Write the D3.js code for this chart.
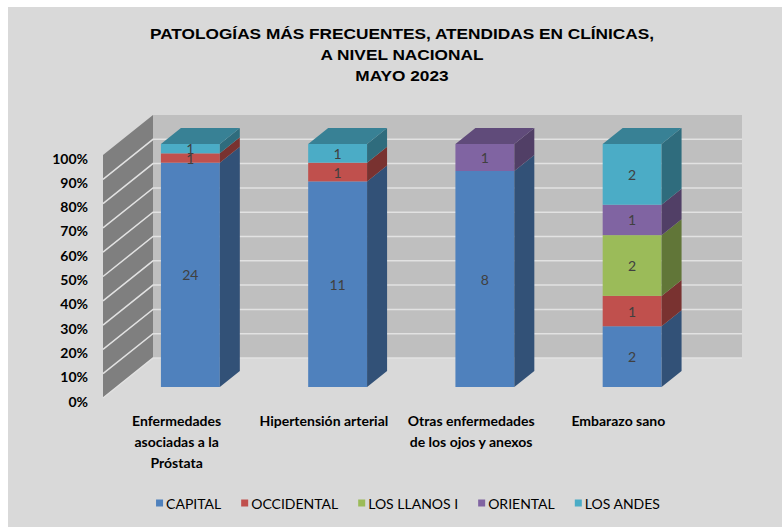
<!DOCTYPE html>
<html>
<head>
<meta charset="utf-8">
<script src="https://cdn.jsdelivr.net/npm/d3@7"></script>
<style>
  body { margin: 0; background: #fff; }
  svg { display: block; }
</style>
</head>
<body>
<div id="chart"></div>
<script>
var width = 782,
    height = 527;

// data
var categories = ["Enfermedades asociadas a la Próstata", "Hipertensión arterial",
                  "Otras enfermedades de los ojos y anexos", "Embarazo sano"];
var categoryLines = [["Enfermedades", "asociadas a la", "Próstata"],
                     ["Hipertensión arterial"],
                     ["Otras enfermedades", "de los ojos y anexos"],
                     ["Embarazo sano"]];
var series = ["CAPITAL", "OCCIDENTAL", "LOS LLANOS I", "ORIENTAL", "LOS ANDES"];
var capital    = [24, 11, 8, 2];
var occidental = [1, 1, 0, 1];
var llanos     = [0, 0, 0, 2];
var oriental   = [0, 0, 1, 1];
var andes      = [1, 1, 0, 2];
var yTicks = [0, 0.1, 0.2, 0.3, 0.4, 0.5, 0.6, 0.7, 0.8, 0.9, 1];
var colors = ["#4f81bd", "#c0504d", "#9bbb59", "#8064a2", "#4bacc6"];

var titleLines = ["PATOLOGÍAS MÁS FRECUENTES, ATENDIDAS EN CLÍNICAS,", "A NIVEL NACIONAL", "MAYO 2023"];

var seriesValues = [capital, occidental, llanos, oriental, andes];
var table = categories.map(function(c, i) {
  var row = { cat: c };
  series.forEach(function(s, j) { row[s] = seriesValues[j][i]; });
  return row;
});

var stacked = d3.stack()
    .keys(series)
    .offset(d3.stackOffsetExpand)(table);

// 3d layout
var depth = { dx: 50, dy: -40 },
    barT0 = 0.275, barT1 = 0.675;

var x = d3.scaleBand()
    .domain(categories)
    .range([103, 692])
    .paddingInner(0.6)
    .paddingOuter(0.3);

var xLabel = d3.scaleBand()
    .domain(categories)
    .range([103, 692]);

var y = d3.scaleLinear()
    .domain([0, 1])
    .range([398, 155]);

var svg = d3.select("#chart")
    .append("svg")
    .attr("width", width)
    .attr("height", height);

svg.append("rect")
    .attr("x", 8).attr("y", 7)
    .attr("width", width - 8).attr("height", height - 7)
    .attr("fill", "#d9d9d9");

// title (the original is a little wider than Arial at this height)
svg.append("g")
  .selectAll("text")
    .data(titleLines)
  .enter().append("text")
    .attr("x", 402)
    .attr("y", function(d, i) { return 39 + i * 21; })
    .attr("text-anchor", "middle")
    .style("font-family", "'Liberation Sans', Arial, sans-serif")
    .style("font-weight", "bold")
    .style("font-size", "15px")
    .attr("fill", "#000")
    .text(function(d) { return d; })
    .each(function() {
      var w = this.getComputedTextLength();
      d3.select(this).attr("textLength", w * 1.15).attr("lengthAdjust", "spacingAndGlyphs");
    });

// walls
var xL = x.range()[0], xR = x.range()[1];
var walls = svg.append("g");

walls.append("polygon")
    .attr("points", [
      [xL + depth.dx, y(1) + depth.dy], [xR + depth.dx, y(1) + depth.dy],
      [xR + depth.dx, y(0) + depth.dy], [xL + depth.dx, y(0) + depth.dy]
    ].join(" "))
    .attr("fill", "#bfbfbf");

walls.append("polygon")
    .attr("points", [
      [xL, y(0)], [xL + depth.dx, y(0) + depth.dy],
      [xL + depth.dx, y(1) + depth.dy], [xL, y(1)]
    ].join(" "))
    .attr("fill", "#7f7f7f");

var grid = walls.selectAll(".grid")
    .data(yTicks.filter(function(v) { return v < 1; }))
  .enter().append("g");

grid.append("polyline")
    .attr("points", function(v) {
      return [[xL, y(v)], [xL + depth.dx, y(v) + depth.dy], [xR + depth.dx, y(v) + depth.dy]].join(" ");
    })
    .attr("fill", "none")
    .attr("stroke", "#e2e2e2")
    .attr("stroke-width", 1.5);

// y axis labels
svg.append("g")
  .selectAll("text")
    .data(yTicks)
  .enter().append("text")
    .attr("x", 88)
    .attr("y", function(v) { return y(v) + 3; })
    .attr("text-anchor", "end")
    .attr("dominant-baseline", "central")
    .style("font-family", "Lato, Carlito, sans-serif")
    .style("font-weight", "bold")
    .style("font-size", "14px")
    .attr("fill", "#000")
    .text(d3.format(".0%"));

// bars
var ox = depth.dx * barT0, oy = depth.dy * barT0;
var bdx = depth.dx * (barT1 - barT0), bdy = depth.dy * (barT1 - barT0);

var bars = svg.append("g");

stacked.forEach(function(layer, j) {
  var c = d3.color(colors[j]);
  var sideColor = c.darker(1.3).formatHex();
  var topColor = c.darker(0.8).formatHex();
  var g = bars.append("g");

  layer.forEach(function(d) {
    if (d[1] - d[0] <= 0) return;
    var x0 = x(d.data.cat) + ox,
        x1 = x0 + x.bandwidth(),
        yTop = y(d[1]) + oy,
        yBot = y(d[0]) + oy;

    g.append("rect")
        .attr("x", x0).attr("y", yTop)
        .attr("width", x.bandwidth()).attr("height", yBot - yTop)
        .attr("fill", colors[j]);

    g.append("polygon")
        .attr("points", [[x1, yTop], [x1 + bdx, yTop + bdy], [x1 + bdx, yBot + bdy], [x1, yBot]].join(" "))
        .attr("fill", sideColor);

    if (d[1] >= 1) {
      g.append("polygon")
          .attr("points", [[x0, yTop], [x0 + bdx, yTop + bdy], [x1 + bdx, yTop + bdy], [x1, yTop]].join(" "))
          .attr("fill", topColor);
    }
  });
});

// data labels
stacked.forEach(function(layer, j) {
  bars.append("g")
    .selectAll("text")
      .data(layer.filter(function(d) { return d[1] - d[0] > 0; }))
    .enter().append("text")
      .attr("x", function(d) { return x(d.data.cat) + ox + x.bandwidth() / 2; })
      .attr("y", function(d) { return y((d[0] + d[1]) / 2) + oy; })
      .attr("text-anchor", "middle")
      .attr("dominant-baseline", "central")
      .style("font-family", "Lato, Carlito, sans-serif")
      .style("font-size", "14px")
      .attr("fill", "#404040")
      .text(function(d) { return d.data[series[j]]; });
});

// category labels
var catG = svg.append("g")
  .selectAll("text")
    .data(categories)
  .enter().append("text")
    .attr("x", function(d) { return xLabel(d) + xLabel.bandwidth() / 2; })
    .attr("y", 426)
    .attr("text-anchor", "middle")
    .style("font-family", "Lato, Carlito, sans-serif")
    .style("font-weight", "bold")
    .style("font-size", "14px")
    .attr("fill", "#000");

catG.selectAll("tspan")
    .data(function(d, i) { return categoryLines[i]; })
  .enter().append("tspan")
    .attr("x", function() { var p = d3.select(this.parentNode).datum(); return xLabel(p) + xLabel.bandwidth() / 2; })
    .attr("dy", function(d, i) { return i === 0 ? 0 : 21; })
    .text(function(d) { return d; });

// legend
var legend = svg.append("g");
var items = legend.selectAll("g")
    .data(series)
  .enter().append("g");

items.append("rect")
    .attr("width", 7).attr("height", 7)
    .attr("y", -3.5)
    .attr("fill", function(d, i) { return colors[i]; });

items.append("text")
    .attr("x", 10)
    .attr("dominant-baseline", "central")
    .style("font-family", "Lato, Carlito, sans-serif")
    .style("font-size", "14px")
    .attr("fill", "#000")
    .text(function(d) { return d; });

var pos = 0, starts = [];
items.each(function() {
  starts.push(pos);
  pos += 10 + this.querySelector("text").getComputedTextLength() + 20;
});
var total = pos - 20, lx = 408 - total / 2;
items.attr("transform", function(d, i) { return "translate(" + (lx + starts[i]) + ",503)"; });
</script>
</body>
</html>
